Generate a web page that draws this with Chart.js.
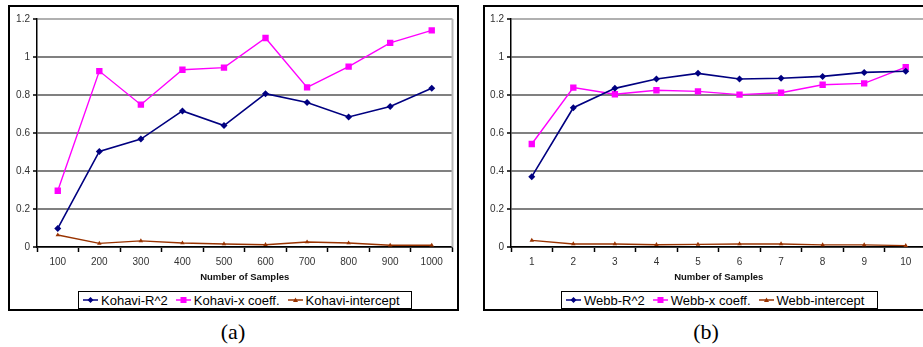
<!DOCTYPE html>
<html>
<head>
<meta charset="utf-8">
<script src="https://cdn.jsdelivr.net/npm/chart.js@4.4.1/dist/chart.umd.min.js"></script>
<style>
  html, body { margin: 0; padding: 0; background: #fff; }
  body { width: 923px; height: 347px; position: relative; overflow: hidden; font-family: 'Liberation Sans', Arial, sans-serif; }
  .panel { position: absolute; top: 5px; height: 306px; border: 2px solid #000; box-sizing: border-box; }
  .wrap { position: absolute; top: 7px; height: 277px; }
  .legend { position: absolute; top: 291px; height: 18px; border: 1px solid #000; box-sizing: border-box; background: #fff;
            display: flex; align-items: center; padding-left: 4px; gap: 8px; font-size: 13px; color: #000; white-space: nowrap; }
  .item { display: flex; align-items: center; gap: 3px; }
  .caption { position: absolute; top: 319px; font-family: 'Liberation Serif', 'DejaVu Serif', serif; font-size: 22px; transform: translateX(-50%); }
</style>
</head>
<body>
<div class="panel" style="left:8px; width:451px;"></div>
<div class="panel" style="left:483px; width:460px;"></div>
<div class="wrap" style="left:10px; width:447px;"><canvas id="chart-a"></canvas></div>
<div class="wrap" style="left:485px; width:446px;"><canvas id="chart-b"></canvas></div>
<div class="legend" id="legend-a" style="left:78px; width:334px;"></div>
<div class="legend" id="legend-b" style="left:561px; width:317px;"></div>
<div class="caption" style="left:233px;">(a)</div>
<div class="caption" style="left:706px;">(b)</div>
<script>
// data
const kohaviSamples = ['100', '200', '300', '400', '500', '600', '700', '800', '900', '1000'];
const kohaviR2 = [0.098, 0.503, 0.568, 0.716, 0.639, 0.807, 0.761, 0.684, 0.739, 0.835];
const kohaviCoeff = [0.296, 0.926, 0.749, 0.933, 0.944, 1.100, 0.840, 0.949, 1.074, 1.140];
const kohaviIntercept = [0.063, 0.019, 0.032, 0.021, 0.016, 0.012, 0.026, 0.021, 0.009, 0.009];

const webbSamples = ['1', '2', '3', '4', '5', '6', '7', '8', '9', '10'];
const webbR2 = [0.370, 0.733, 0.835, 0.884, 0.914, 0.884, 0.888, 0.898, 0.919, 0.925];
const webbCoeff = [0.542, 0.839, 0.804, 0.825, 0.819, 0.802, 0.812, 0.854, 0.861, 0.947];
const webbIntercept = [0.035, 0.016, 0.016, 0.012, 0.014, 0.016, 0.016, 0.011, 0.011, 0.007];

const yTicks = [0, 0.2, 0.4, 0.6, 0.8, 1, 1.2];

const navy = '#000080';
const magenta = '#ff00ff';
const brown = '#993300';
const tickFont = { family: "'Liberation Sans', Arial, sans-serif", size: 10 };

const seriesStyle = [
    { color: navy, pointStyle: 'rectRot', radius: 3.5, width: 1.6 },
    { color: magenta, pointStyle: 'rect', radius: 4.5, width: 1.4 },
    { color: brown, pointStyle: 'triangle', radius: 2.6, width: 1.4 }
];

// light gray line on the right edge of the plot area
const plotEdge = {
    id: 'plotEdge',
    afterDraw(chart) {
        const a = chart.chartArea, ctx = chart.ctx;
        ctx.save();
        ctx.strokeStyle = '#b8b8b8';
        ctx.lineWidth = 2;
        ctx.beginPath();
        ctx.moveTo(a.right, a.top);
        ctx.lineTo(a.right, a.bottom);
        ctx.stroke();
        ctx.restore();
    }
};

function buildLegend(id, names) {
    const el = document.getElementById(id);
    names.forEach((name, i) => {
        const s = seriesStyle[i];
        let mark;
        if (s.pointStyle === 'rect') mark = `<rect x="4.5" y="1" width="6" height="6" fill="${s.color}"/>`;
        else if (s.pointStyle === 'rectRot') mark = `<polygon points="7.5,1 10.5,4 7.5,7 4.5,4" fill="${s.color}"/>`;
        else mark = `<polygon points="7.5,1.5 10,6 5,6" fill="${s.color}"/>`;
        const item = document.createElement('span');
        item.className = 'item';
        item.innerHTML = `<svg width="15" height="8"><line x1="0" y1="4" x2="15" y2="4" stroke="${s.color}" stroke-width="1.5"/>${mark}</svg><span>${name}</span>`;
        el.appendChild(item);
    });
}

function makeChart(canvasId, labels, values, names, yWidth, edge) {
    return new Chart(document.getElementById(canvasId), {
        type: 'line',
        data: {
            labels,
            datasets: values.map((v, i) => ({
                label: names[i],
                data: v,
                borderColor: seriesStyle[i].color,
                backgroundColor: seriesStyle[i].color,
                borderWidth: seriesStyle[i].width,
                pointStyle: seriesStyle[i].pointStyle,
                pointRadius: seriesStyle[i].radius,
                pointBorderWidth: 0,
                tension: 0,
                fill: false
            }))
        },
        options: {
            responsive: true,
            maintainAspectRatio: false,
            animation: false,
            layout: { padding: { top: 12, right: 3, left: 0, bottom: 0 } },
            plugins: { legend: { display: false }, tooltip: { enabled: false } },
            scales: {
                x: {
                    offset: true,
                    afterFit: s => { s.height = 37; },
                    grid: { offset: true, drawOnChartArea: false, drawTicks: true, tickLength: 5, tickColor: '#000', tickWidth: 1.5 },
                    border: { color: '#000', width: 1.5 },
                    ticks: { font: tickFont, color: '#333', padding: 4, maxRotation: 0, autoSkip: false },
                    title: {
                        display: true,
                        text: 'Number of Samples',
                        font: { family: "'Liberation Sans', Arial, sans-serif", size: 9.5, weight: 'bold' },
                        color: '#111',
                        padding: { top: 0, bottom: 1 }
                    }
                },
                y: {
                    min: 0,
                    max: 1.2,
                    afterFit: s => { s.width = yWidth; },
                    afterBuildTicks: s => { s.ticks = yTicks.map(v => ({ value: v })); },
                    grid: {
                        color: ctx => (ctx.tick && ctx.tick.value === 1.2) ? '#b0b0b0' : '#808080',
                        lineWidth: 2,
                        tickLength: 4,
                        tickColor: '#000',
                        tickWidth: 1.5
                    },
                    border: { color: '#000', width: 1.5 },
                    ticks: { font: tickFont, color: '#333', padding: 3, callback: v => String(Math.round(v * 10) / 10) }
                }
            }
        },
        plugins: edge ? [plotEdge] : []
    });
}

const kohaviNames = ['Kohavi-R^2', 'Kohavi-x coeff.', 'Kohavi-intercept'];
const webbNames = ['Webb-R^2', 'Webb-x coeff.', 'Webb-intercept'];

makeChart('chart-a', kohaviSamples, [kohaviR2, kohaviCoeff, kohaviIntercept], kohaviNames, 27, true);
makeChart('chart-b', webbSamples, [webbR2, webbCoeff, webbIntercept], webbNames, 26, false);
buildLegend('legend-a', kohaviNames);
buildLegend('legend-b', webbNames);
</script>
</body>
</html>
